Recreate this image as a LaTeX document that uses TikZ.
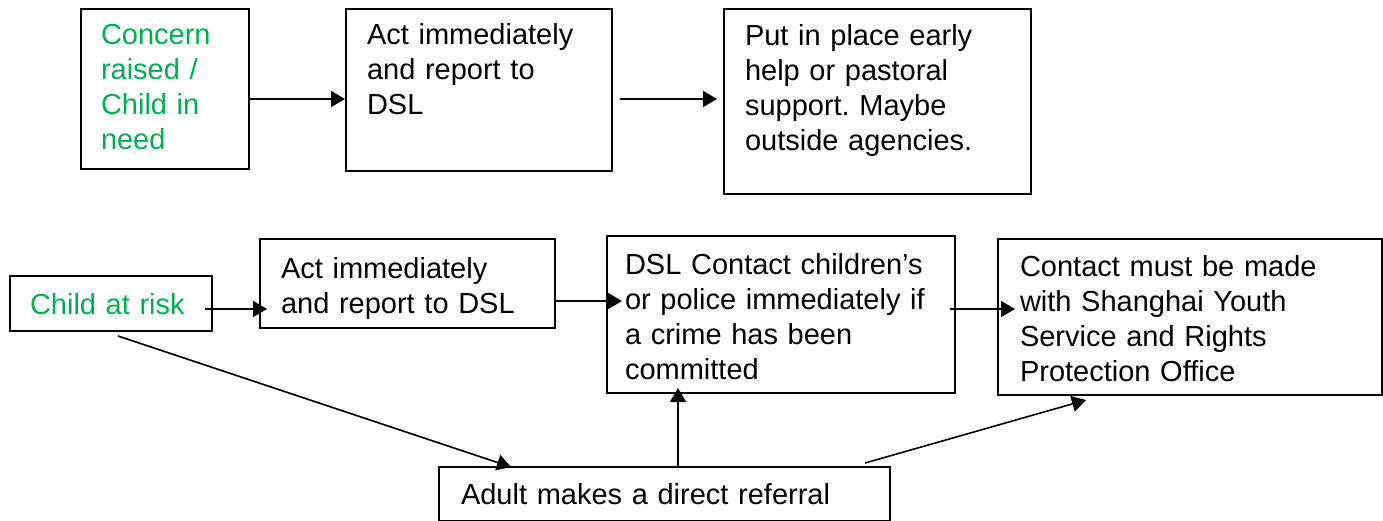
\documentclass[tikz,border=0pt]{standalone}
\usepackage{fontspec}
\setmainfont{Liberation Sans}
\usepackage{xcolor}
\usetikzlibrary{calc,
	positioning,
	arrows.meta}
\frenchspacing
\definecolor{concerngreen}{RGB}{0,176,80}
\tikzstyle{box}=[draw, line width=2pt, anchor=north west, align=left,
		inner ysep=0, font=\fontsize{29}{35}\selectfont]
\tikzstyle{start}=[text=concerngreen]
\tikzstyle{arr}=[line width=1.6pt, -{Triangle[length=14pt,width=16pt]}]

\begin{document}
\begin{tikzpicture}[x=1pt, y=-1pt]
                \useasboundingbox (0,0) rectangle (1383,520);
                % first row
                \node[box, start, text width=128pt, inner xsep=20pt, text height=35pt, text depth=125pt] (concern) at (80,8) {Concern\\raised /\\Child in\\need};
                \node[box, text width=224pt, inner xsep=21pt, text height=35pt, text depth=127pt] (act1) at (345,8) {Act immediately\\and report to\\DSL};
                \node[box, text width=265pt, inner xsep=21pt, text height=36pt, text depth=149pt] (help) at (723,8) {Put in place early\\help or pastoral\\support. Maybe\\outside agencies.};
                % second row
                \node[box, start, text width=162pt, inner xsep=20pt, text height=38pt, text depth=17pt] (risk) at (9,275) {Child at risk};
                \node[box, text width=253pt, inner xsep=21pt, text height=39pt, text depth=50pt] (act2) at (259,238) {Act immediately\\and report to DSL};
                \node[box, text width=312pt, inner xsep=18pt, text height=38pt, text depth=119pt] (dsl) at (606,235) {DSL Contact children’s\\or police immediately if\\a crime has been\\committed};
                \node[box, text width=340pt, inner xsep=22pt, text height=37pt, text depth=119pt] (youth) at (997,238) {Contact must be made\\with Shanghai Youth\\Service and Rights\\Protection Office};
                \node[box, text width=407pt, inner xsep=22pt, text height=37pt, text depth=17pt] (referral) at (438,466) {Adult makes a direct referral};
                % connectors
                \draw[arr] ($(concern.east)+(0,10)$) -- ($(act1.west |- concern.east)+(0,10)$);
                \draw[arr] ($(act1.east)+(7,9)$) -- ($(help.west |- act1.east)+(-6,9)$);
                \draw[arr] ($(risk.east)+(-8,5.5)$) -- ($(act2.west |- risk.east)+(8,5.5)$);
                \draw[arr] ($(act2.east)+(-1,17.5)$) -- ($(dsl.west |- act2.east)+(16,17.5)$);
                \draw[arr] ($(dsl.east)+(-6,-5.5)$) -- ($(youth.west |- dsl.east)+(18,-5.5)$);
                \draw[arr] ($(risk.south)+(7,4)$) -- ($(referral.north west)+(73,1)$);
                \draw[arr] ($(referral.north west)+(240,0)$) -- ($(dsl.south west)+(72,-6)$);
                \draw[arr] ($(referral.north east)+(-26,-3)$) -- ($(youth.south west)+(89,4)$);
\end{tikzpicture}
\end{document}
